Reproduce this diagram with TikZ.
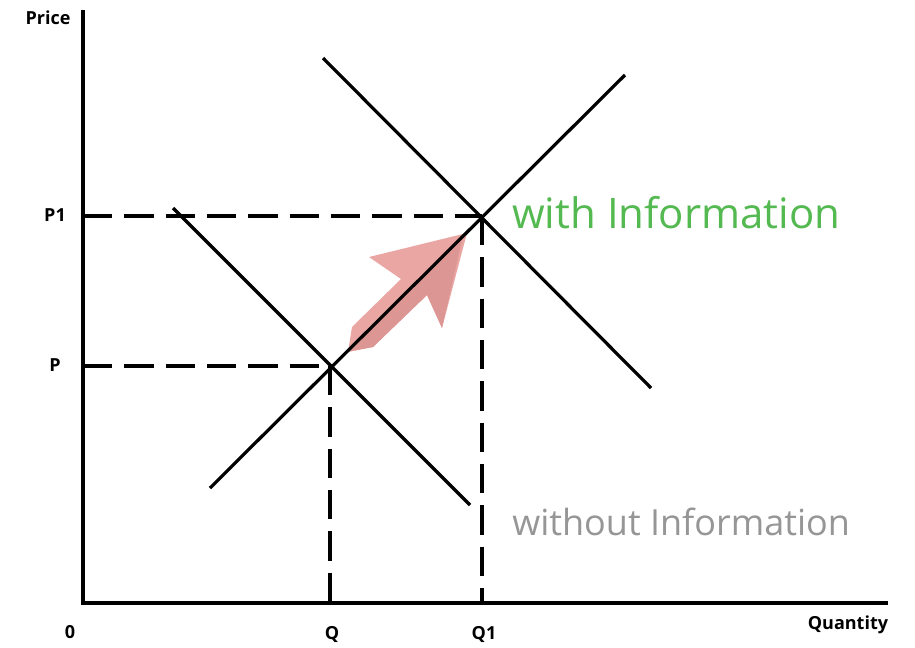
\documentclass[tikz,border=0pt]{standalone}
\usepackage{fontspec}
\setmainfont{Open Sans}
\definecolor{infogreen}{RGB}{84,185,80}
\definecolor{infogray}{RGB}{150,150,150}
\definecolor{arrowpink}{RGB}{234,166,163}
\definecolor{arrowdark}{RGB}{220,150,148}
\begin{document}
\begin{tikzpicture}[x=0.75pt,y=-0.75pt,
  axis/.style={line width=2.8pt},
  curve/.style={line width=2.4pt},
  guide/.style={line width=2.5pt,dash pattern=on 22pt off 9pt},
  axlabel/.style={font=\bfseries\fontsize{13.5}{15}\selectfont,inner sep=0pt},
  infolabel/.style={inner sep=0pt,anchor=west}]
\useasboundingbox (0,0) rectangle (915,647);
% coordinates
\coordinate (O) at (83,603);
\coordinate (Ytop) at (83,10);
\coordinate (Xend) at (888,603);
\coordinate (E1) at (330,366);
\coordinate (E2) at (482,216);
\coordinate (Pax) at (83,366);
\coordinate (P1ax) at (83,216);
\coordinate (Qax) at (330,603);
\coordinate (Q1ax) at (482,603);
\coordinate (S1) at (210,488);
\coordinate (S2) at (625,75);
\coordinate (D1a) at (173,208);
\coordinate (D1b) at (470,505);
\coordinate (D2a) at (323,58);
\coordinate (D2b) at (651,388);
% guides
\draw[guide] (P1ax) -- (E2);
\draw[guide] (Pax) -- (E1);
\draw[guide] (E1) -- (Qax);
\draw[guide] (E2) -- (Q1ax);
% arrow
\fill[arrowpink] (352,327) -- (401,279) -- (369,257) -- (467,233) -- (442,328) -- (427,295) -- (373,347) -- (348,352) -- cycle;
\fill[arrowdark] (350,351) -- (462,240) -- (442,328) -- (427,295) -- (373,347) -- cycle;
% curves
\draw[curve] (S1) -- (S2);
\draw[curve] (D1a) -- (D1b);
\draw[curve] (D2a) -- (D2b);
% axes
\draw[axis] (Ytop) -- (O) -- (Xend);
% labels
\node[axlabel] (price) at (48,18) {Price};
\node[axlabel] (qty) at (848,625) {Quantity};
\node[axlabel] (zero) at (70,632) {0};
\node[axlabel] (q) at (332,634) {Q};
\node[axlabel] (q1) at (484,634) {Q1};
\node[axlabel] (p) at (55,365) {P};
\node[axlabel] (p1) at (55,215) {P1};
\node[infolabel,text=infogreen,font=\fontsize{31.5}{36}\selectfont] (with) at (512,213) {with Information};
\node[infolabel,text=infogray,font=\fontsize{27}{32}\selectfont] (without) at (512,522) {without Information};
\end{tikzpicture}
\end{document}
